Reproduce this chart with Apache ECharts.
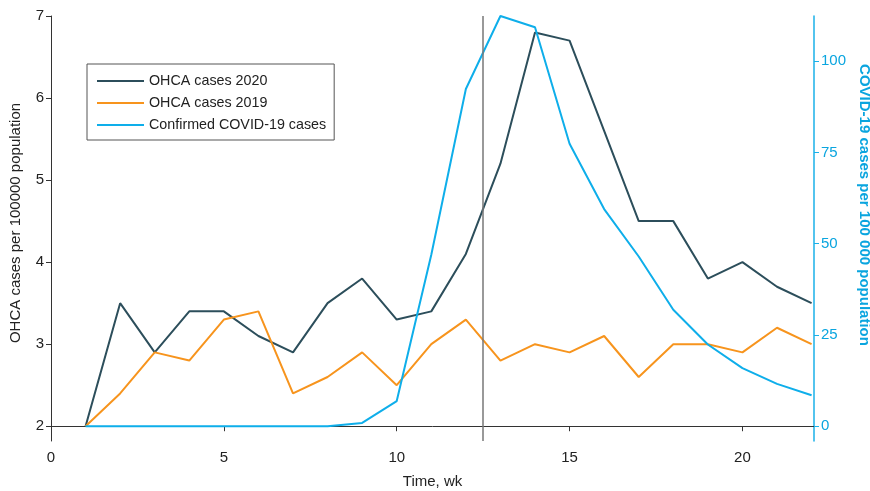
<!DOCTYPE html>
<html>
<head>
<meta charset="utf-8">
<script src="https://cdn.jsdelivr.net/npm/echarts@6/dist/echarts.min.js"></script>
<style>html,body{margin:0;padding:0;background:#fff}#c{width:870px;height:491px}</style>
</head>
<body>
<div id="c"></div>
<script>
const weeks = [1,2,3,4,5,6,7,8,9,10,11,12,13,14,15,16,17,18,19,20,21,22];
const ohca2020 = [2.0,3.5,2.9,3.4,3.4,3.1,2.9,3.5,3.8,3.3,3.4,4.1,5.2,6.8,6.7,5.6,4.5,4.5,3.8,4.0,3.7,3.5];
const ohca2019 = [2.0,2.4,2.9,2.8,3.3,3.4,2.4,2.6,2.9,2.5,3.0,3.3,2.8,3.0,2.9,3.1,2.6,3.0,3.0,2.9,3.2,3.0];
const covid = [0,0,0,0,0,0,0,0,0.9,6.9,47,92.4,112.4,109.3,77.4,59.5,46.5,31.9,22.4,15.9,11.6,8.5];
const xTicks = [0,5,10,15,20];
const leftTicks = [2,3,4,5,6,7];
const rightTicks = [0,25,50,75,100];
const lockdownWeek = 12.5;

const FONT = '"Liberation Sans", Arial, sans-serif';
const pair = arr => weeks.map((w,i)=>[w,arr[i]]);

const chart = echarts.init(document.getElementById('c'), null, {renderer:'canvas'});
chart.setOption({
  animation:false,
  textStyle:{fontFamily:FONT},
  grid:{left:51, right:56, top:16, bottom:50, containLabel:false, outerBoundsMode:'none'},
  legend:{
    orient:'vertical', left:87, top:64,
    padding:[10,8,8,10], itemGap:8, itemWidth:47, itemHeight:16,
    icon:'path://M0,0 L47,0 L47,2 L0,2 Z',
    borderColor:'#555', borderWidth:1,
    textStyle:{fontSize:14.3, color:'#222', fontFamily:FONT},
    data:['OHCA cases 2020','OHCA cases 2019','Confirmed COVID-19 cases']
  },
  xAxis:{
    type:'value', min:0, max:22.07,
    name:'Time, wk', nameLocation:'middle', nameGap:33,
    nameTextStyle:{fontSize:15, color:'#222'},
    axisLine:{lineStyle:{color:'#333', width:1}},
    axisTick:{show:true, length:5, lineStyle:{color:'#333'}, customValues:xTicks},
    axisLabel:{fontSize:15, color:'#222', margin:9, customValues:xTicks},
    splitLine:{show:false}
  },
  yAxis:[{
    type:'value', min:1.82, max:7, position:'left',
    name:'OHCA cases per 100000 population', nameLocation:'middle', nameGap:28,
    nameTextStyle:{fontSize:15, color:'#222', padding:[0,0,0,11]},
    axisLine:{show:true, lineStyle:{color:'#333', width:1}},
    axisTick:{show:true, length:5, lineStyle:{color:'#333'}, customValues:leftTicks},
    axisLabel:{fontSize:15, color:'#222', margin:7, customValues:leftTicks},
    splitLine:{show:false}
  },{
    type:'value', min:-4.05, max:112.4, position:'right',
    name:'COVID-19 cases per 100 000 population', nameLocation:'middle', nameGap:34, nameRotate:-90,
    nameTextStyle:{fontSize:15, color:'#0aa5df', fontWeight:'bold', padding:[0,47,0,0]},
    axisLine:{show:true, lineStyle:{color:'#1ab0e8', width:1.5}},
    axisTick:{show:true, length:5, lineStyle:{color:'#1ab0e8'}, customValues:rightTicks},
    axisLabel:{fontSize:15, color:'#0aa5df', margin:7, customValues:rightTicks},
    splitLine:{show:false}
  }],
  series:[{
    name:'OHCA cases 2020', type:'line', yAxisIndex:0, symbol:'none',
    data:pair(ohca2020), lineStyle:{color:'#2c4e5b', width:2}, itemStyle:{color:'#2c4e5b'},
    markLine:{silent:true, symbol:'none', label:{show:false},
      lineStyle:{color:'#777', width:1.5, type:'solid'}, data:[{xAxis:lockdownWeek}]}
  },{
    name:'OHCA cases 2019', type:'line', yAxisIndex:0, symbol:'none',
    data:pair(ohca2019), lineStyle:{color:'#f7941d', width:2}, itemStyle:{color:'#f7941d'}
  },{
    name:'Confirmed COVID-19 cases', type:'line', yAxisIndex:1, symbol:'none',
    data:pair(covid), lineStyle:{color:'#0eaeea', width:2}, itemStyle:{color:'#0eaeea'}
  }]
});
</script>
</body>
</html>
